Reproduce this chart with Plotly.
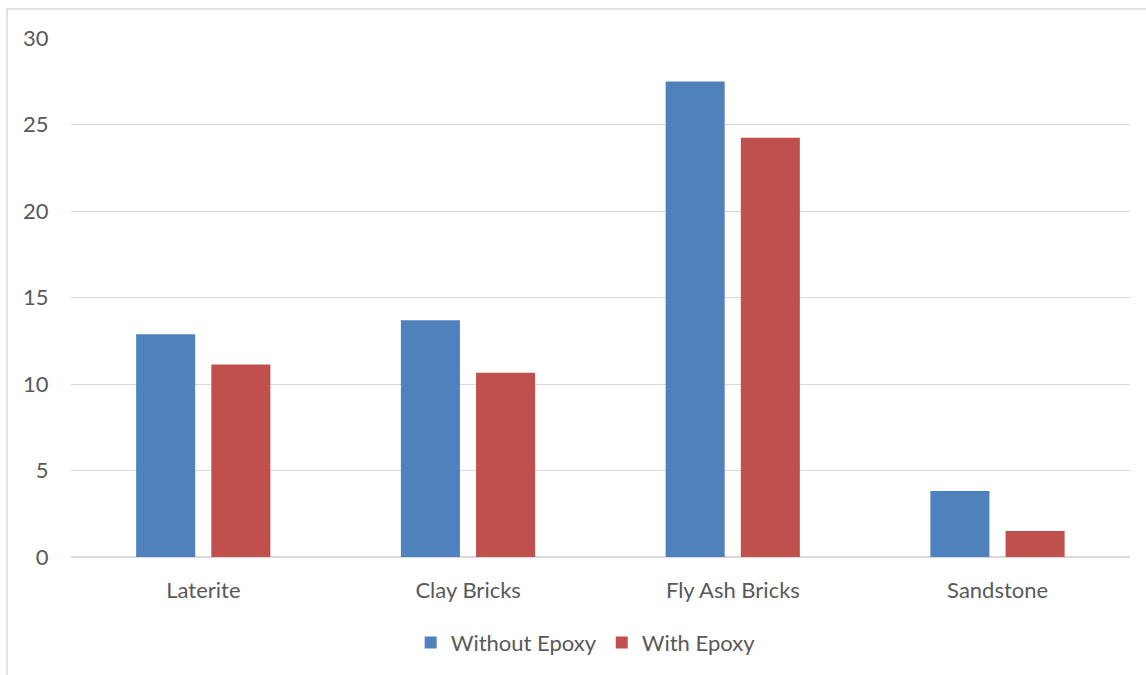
import plotly.graph_objects as go

categories = ["Laterite", "Clay Bricks", "Fly Ash Bricks", "Sandstone"]
without_epoxy = [12.87, 13.69, 27.48, 3.81]
with_epoxy = [11.13, 10.65, 24.23, 1.50]
series_names = ["Without Epoxy", "With Epoxy"]
y_ticks = [0, 5, 10, 15, 20, 25, 30]

FONT = "Lato"
TEXT = "#595959"
GRID = "#d9d9d9"

fig = go.Figure()
fig.add_trace(go.Bar(x=categories, y=without_epoxy, name=series_names[0],
                     marker=dict(color="#4F81BD", line=dict(width=0)),
                     width=0.223, offset=-0.254))
fig.add_trace(go.Bar(x=categories, y=with_epoxy, name=series_names[1],
                     marker=dict(color="#C0504D", line=dict(width=0)),
                     width=0.223, offset=0.030))

fig.update_layout(
    width=1146, height=675,
    margin=dict(l=71, r=16, t=38, b=117),
    paper_bgcolor="white", plot_bgcolor="white",
    barmode="overlay",
    font=dict(family=FONT, size=22, color=TEXT),
    showlegend=True,
    legend=dict(orientation="h", x=0.486, xanchor="center", y=-0.163, yanchor="middle",
                font=dict(family=FONT, size=22, color=TEXT),
                itemwidth=30, tracegroupgap=0, itemclick=False),
    shapes=[dict(type="rect", xref="paper", yref="paper",
                 x0=-0.0604, x1=1.2, y0=-0.5, y1=1.0558,
                 line=dict(color=GRID, width=1.5), fillcolor="rgba(0,0,0,0)",
                 layer="below")],
)
fig.update_xaxes(showgrid=False, showline=False, zeroline=False,
                 ticks="outside", ticklen=14, tickcolor="rgba(0,0,0,0)",
                 tickfont=dict(family=FONT, size=22, color=TEXT))
fig.update_yaxes(range=[0, 30], tickvals=y_ticks, showgrid=True, gridcolor=GRID, gridwidth=1,
                 zeroline=True, zerolinecolor=GRID, zerolinewidth=1.5, showline=False,
                 ticks="outside", ticklen=17, tickcolor="rgba(0,0,0,0)",
                 tickfont=dict(family=FONT, size=22, color=TEXT))

fig.write_html("out.html")
